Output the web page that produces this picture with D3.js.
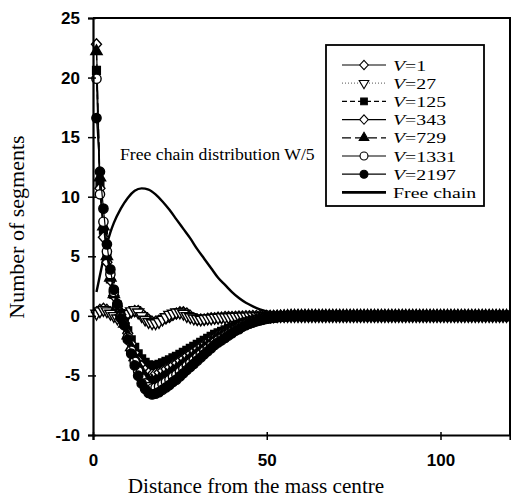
<!DOCTYPE html>
<html><head><meta charset="utf-8">
<script src="https://cdn.jsdelivr.net/npm/d3@7"></script>
<style>body{margin:0;background:#fff}</style></head>
<body><svg id="c" width="511" height="504"></svg>
<script>
// ---- data ----
const distance = d3.range(1, 121); // x = 1..120
const v1 = [0.3,0.5,0.6,0.5,0.3,0.1,-0.1,-0.2,-0.1,0.1,
  0.3,0.4,0.4,0.2,-0.1,-0.3,-0.5,-0.5,-0.4,-0.3,
  -0.2,-0.1,0.1,0.2,0.3,0.3,0.2,0.0,-0.2,-0.3,
  -0.3,-0.3,-0.25,-0.2,-0.2,-0.15,-0.15,-0.1,-0.1,-0.1,
  -0.08,-0.06,-0.05,-0.04,-0.03,-0.02,-0.02,-0.01,-0.01,0,
  0,0,0,0,0,0,0,0,0,0,
  0,0,0,0,0,0,0,0,0,0,0,0,0,0,0,0,0,0,0,0,0,0,0,0,0,0,0,0,0,0,
  0,0,0,0,0,0,0,0,0,0,0,0,0,0,0,0,0,0,0,0,0,0,0,0,0,0,0,0,0,0];
const v27 = [0.2,0.4,0.5,0.4,0.2,0.0,-0.2,-0.2,0.0,0.2,
  0.4,0.5,0.3,0.0,-0.3,-0.5,-0.6,-0.6,-0.5,-0.3,
  -0.1,0.1,0.2,0.3,0.3,0.2,0.0,-0.1,-0.2,-0.25,
  -0.3,-0.25,-0.2,-0.2,-0.15,-0.15,-0.1,-0.1,-0.1,-0.08,
  -0.06,-0.05,-0.04,-0.03,-0.02,-0.02,-0.01,-0.01,0,0,
  0,0,0,0,0,0,0,0,0,0,
  0,0,0,0,0,0,0,0,0,0,0,0,0,0,0,0,0,0,0,0,0,0,0,0,0,0,0,0,0,0,
  0,0,0,0,0,0,0,0,0,0,0,0,0,0,0,0,0,0,0,0,0,0,0,0,0,0,0,0,0,0];
const v125 = [20.6,11.1,7.2,4.8,3.1,1.8,0.9,0.2,-0.5,-1.26,
  -2.02,-2.65,-3.19,-3.61,-3.91,-4.12,-4.2,-4.16,-4.07,-3.95,
  -3.82,-3.7,-3.53,-3.4,-3.23,-3.07,-2.9,-2.73,-2.56,-2.39,
  -2.23,-2.06,-1.89,-1.72,-1.55,-1.43,-1.3,-1.18,-1.05,-0.92,
  -0.8,-0.71,-0.59,-0.5,-0.42,-0.36,-0.29,-0.24,-0.2,-0.16,
  -0.12,-0.09,-0.07,-0.05,-0.03,-0.02,-0.01,0,0,0,
  0,0,0,0,0,0,0,0,0,0,0,0,0,0,0,0,0,0,0,0,0,0,0,0,0,0,0,0,0,0,
  0,0,0,0,0,0,0,0,0,0,0,0,0,0,0,0,0,0,0,0,0,0,0,0,0,0,0,0,0,0];
const v343 = [22.8,10.7,6.6,4.5,3.0,1.7,0.8,0.1,-0.59,-1.47,
  -2.35,-3.09,-3.72,-4.21,-4.56,-4.8,-4.9,-4.85,-4.75,-4.61,
  -4.46,-4.31,-4.12,-3.97,-3.77,-3.58,-3.38,-3.19,-2.99,-2.79,
  -2.6,-2.4,-2.21,-2.01,-1.81,-1.67,-1.52,-1.37,-1.23,-1.08,
  -0.93,-0.83,-0.69,-0.59,-0.49,-0.42,-0.34,-0.28,-0.23,-0.18,
  -0.14,-0.11,-0.08,-0.05,-0.03,-0.02,-0.01,0,0,0,
  0,0,0,0,0,0,0,0,0,0,0,0,0,0,0,0,0,0,0,0,0,0,0,0,0,0,0,0,0,0,
  0,0,0,0,0,0,0,0,0,0,0,0,0,0,0,0,0,0,0,0,0,0,0,0,0,0,0,0,0,0];
const v729 = [22.2,11.6,7.5,5.0,3.2,1.8,0.8,0.0,-0.66,-1.65,
  -2.64,-3.47,-4.18,-4.73,-5.12,-5.39,-5.5,-5.45,-5.34,-5.17,
  -5.0,-4.84,-4.62,-4.46,-4.24,-4.02,-3.8,-3.58,-3.36,-3.14,
  -2.92,-2.7,-2.48,-2.26,-2.04,-1.87,-1.71,-1.54,-1.38,-1.21,
  -1.05,-0.94,-0.77,-0.66,-0.55,-0.47,-0.39,-0.32,-0.26,-0.2,
  -0.16,-0.12,-0.09,-0.06,-0.04,-0.02,-0.01,0,0,0,
  0,0,0,0,0,0,0,0,0,0,0,0,0,0,0,0,0,0,0,0,0,0,0,0,0,0,0,0,0,0,
  0,0,0,0,0,0,0,0,0,0,0,0,0,0,0,0,0,0,0,0,0,0,0,0,0,0,0,0,0,0];
const v1331 = [19.9,10.2,7.9,5.4,3.5,2.0,0.9,-0.1,-0.73,-1.83,
  -2.93,-3.84,-4.64,-5.25,-5.67,-5.98,-6.1,-6.04,-5.92,-5.73,
  -5.55,-5.37,-5.12,-4.94,-4.7,-4.45,-4.21,-3.97,-3.72,-3.48,
  -3.23,-2.99,-2.75,-2.5,-2.26,-2.07,-1.89,-1.71,-1.53,-1.34,
  -1.16,-1.04,-0.85,-0.73,-0.61,-0.52,-0.43,-0.35,-0.29,-0.23,
  -0.18,-0.13,-0.1,-0.07,-0.04,-0.02,-0.01,0,0,0,
  0,0,0,0,0,0,0,0,0,0,0,0,0,0,0,0,0,0,0,0,0,0,0,0,0,0,0,0,0,0,
  0,0,0,0,0,0,0,0,0,0,0,0,0,0,0,0,0,0,0,0,0,0,0,0,0,0,0,0,0,0];
const v2197 = [16.6,12.1,9.0,6.0,3.9,2.2,1.0,-0.2,-0.79,-1.98,
  -3.17,-4.16,-5.02,-5.68,-6.14,-6.47,-6.6,-6.53,-6.4,-6.2,
  -6.01,-5.81,-5.54,-5.35,-5.08,-4.82,-4.55,-4.29,-4.03,-3.76,
  -3.5,-3.23,-2.97,-2.71,-2.44,-2.24,-2.05,-1.85,-1.65,-1.45,
  -1.25,-1.12,-0.92,-0.79,-0.66,-0.56,-0.46,-0.38,-0.31,-0.24,
  -0.19,-0.15,-0.11,-0.07,-0.05,-0.03,-0.01,0,0,0,
  0,0,0,0,0,0,0,0,0,0,0,0,0,0,0,0,0,0,0,0,0,0,0,0,0,0,0,0,0,0,
  0,0,0,0,0,0,0,0,0,0,0,0,0,0,0,0,0,0,0,0,0,0,0,0,0,0,0,0,0,0];
const freeX = [1,2,3,4,5,6,8,10,12,14,16,18,20,22,24,26,28,30,32,34,36,38,40,42,44,46,48,50,52,54,56,58,60,70,80,90,100,110,120];
const freeY = [2.0,3.4,4.8,6.0,7.0,7.8,9.0,9.9,10.5,10.7,10.6,10.2,9.6,8.9,8.1,7.3,6.5,5.6,4.8,4.0,3.2,2.6,2.0,1.5,1.1,0.8,0.55,0.37,0.25,0.16,0.1,0.06,0.03,0,0,0,0,0,0];
const seriesNames = ["1","27","125","343","729","1331","2197"];
const seriesValues = [v1, v27, v125, v343, v729, v1331, v2197];
const xTicks = [0, 50, 100];
const yTicks = [-10, -5, 0, 5, 10, 15, 20, 25];

// ---- styles ----
const styles = [
  {shape:"diamond", fill:"#fff", dash:null, lc:"#000"},
  {shape:"tridown", fill:"#fff", dash:"1,2", lc:"#777"},
  {shape:"square", fill:"#000", dash:"5,3", lc:"#000"},
  {shape:"diamond", fill:"#fff", dash:null, lc:"#000"},
  {shape:"triup", fill:"#000", dash:"9,4", lc:"#000"},
  {shape:"circle", fill:"#fff", dash:null, lc:"#000"},
  {shape:"circle", fill:"#000", dash:null, lc:"#000"}
];
function symPath(shape){
  if (shape==="diamond") return "M0,-5.5L5,0L0,5.5L-5,0Z";
  if (shape==="tridown") return d3.symbol(d3.symbolTriangle, 55)();
  if (shape==="triup") return d3.symbol(d3.symbolTriangle, 55)();
  if (shape==="square") return d3.symbol(d3.symbolSquare, 60)();
  return d3.symbol(d3.symbolCircle, 68)();
}

const svg = d3.select("#c");
const L=93, R=510, T=18, B=435;
const x = d3.scaleLinear([0,120],[L,R]);
const y = d3.scaleLinear([-10,25],[B,T]);
const serif = "'Liberation Serif', 'Times New Roman', serif";
const sans = "'Liberation Sans', Arial, sans-serif";

svg.append("defs").append("clipPath").attr("id","clip")
  .append("rect").attr("x",L-7).attr("y",T-7).attr("width",R-L+7).attr("height",B-T+14);

const plot = svg.append("g").attr("clip-path","url(#clip)");

// free chain curve
plot.append("path")
  .datum(freeX.map((d,i)=>[d,freeY[i]]))
  .attr("fill","none").attr("stroke","#000").attr("stroke-width",2.4)
  .attr("d", d3.line().x(d=>x(d[0])).y(d=>y(d[1])).curve(d3.curveMonotoneX));

seriesValues.forEach((vals,si)=>{
  const st = styles[si];
  const pts = vals.map((v,i)=>[distance[i], v]);
  const g = plot.append("g");
  g.append("path").datum(pts).attr("fill","none").attr("stroke",st.lc).attr("stroke-width",1.2)
    .attr("stroke-dasharray", st.dash)
    .attr("d", d3.line().x(d=>x(d[0])).y(d=>y(d[1])));
  g.selectAll("path.m").data(pts).join("path").attr("class","m")
    .attr("d", symPath(st.shape))
    .attr("transform", d=>`translate(${x(d[0])},${y(d[1])})${st.shape==="tridown"?" rotate(180)":""}`)
    .attr("fill", st.fill).attr("stroke","#000").attr("stroke-width",1.4);
});

// axes
const yAxis = svg.append("g").attr("transform",`translate(${L},0)`)
  .call(d3.axisLeft(y).tickValues(yTicks).tickSize(5).tickPadding(8).tickFormat(d=>String(d)));
yAxis.selectAll(".tick line").attr("x1",3).attr("stroke-width",1.5);
yAxis.select(".domain").attr("stroke-width",2.2);
yAxis.selectAll("text").attr("font-family",sans).attr("font-weight","bold").attr("font-size",17).attr("fill","#000");

const xAxis = svg.append("g").attr("transform",`translate(0,${B})`)
  .call(d3.axisBottom(x).tickValues(xTicks).tickSize(5).tickPadding(14).tickFormat(d=>String(d)));
xAxis.selectAll(".tick line").attr("y1",-3).attr("stroke-width",1.5);
xAxis.select(".domain").attr("stroke-width",2.2);
xAxis.selectAll("text").attr("font-family",sans).attr("font-weight","bold").attr("font-size",17).attr("fill","#000");

// frame top/right
svg.append("path").attr("d",`M${L},${T}H${R}V${B}`).attr("fill","none").attr("stroke","#000").attr("stroke-width",2);

// titles
svg.append("text").attr("transform","translate(24,227) rotate(-90)").attr("text-anchor","middle")
  .attr("font-family",serif).attr("font-size",22).text("Number of segments");
svg.append("text").attr("x",256).attr("y",493).attr("text-anchor","middle")
  .attr("font-family",serif).attr("font-size",21.2).text("Distance from the mass centre");
svg.append("text").attr("x",120).attr("y",160)
  .attr("font-family",serif).attr("font-size",17.7).text("Free chain distribution W/5");

// legend
const lg = svg.append("g");
lg.append("rect").attr("x",326).attr("y",45).attr("width",158).attr("height",161)
  .attr("fill","#fff").attr("stroke","#000").attr("stroke-width",1.8);
const rowY = i => 65 + i*18.2;
seriesNames.forEach((nm,i)=>{
  const st = styles[i], cy = rowY(i);
  lg.append("line").attr("x1",342).attr("x2",386).attr("y1",cy).attr("y2",cy)
    .attr("stroke",st.lc).attr("stroke-width",1.2).attr("stroke-dasharray",st.dash);
  lg.append("path").attr("d",symPath(st.shape))
    .attr("transform",`translate(364,${cy}) scale(0.85)${st.shape==="tridown"?" rotate(180)":""}`)
    .attr("fill",st.fill).attr("stroke","#000").attr("stroke-width",1.3);
  const t = lg.append("text").attr("transform",`translate(393,${cy+5.5}) scale(1.28,1)`)
    .attr("font-family",serif).attr("font-size",15.5);
  t.append("tspan").attr("font-style","italic").text("V");
  t.append("tspan").text("=" + nm);
});
const fy = rowY(7);
lg.append("line").attr("x1",342).attr("x2",386).attr("y1",fy).attr("y2",fy).attr("stroke","#000").attr("stroke-width",2.8);
lg.append("text").attr("transform",`translate(393,${fy+5.5}) scale(1.28,1)`)
  .attr("font-family",serif).attr("font-size",15.5).text("Free chain");
</script></body></html>
